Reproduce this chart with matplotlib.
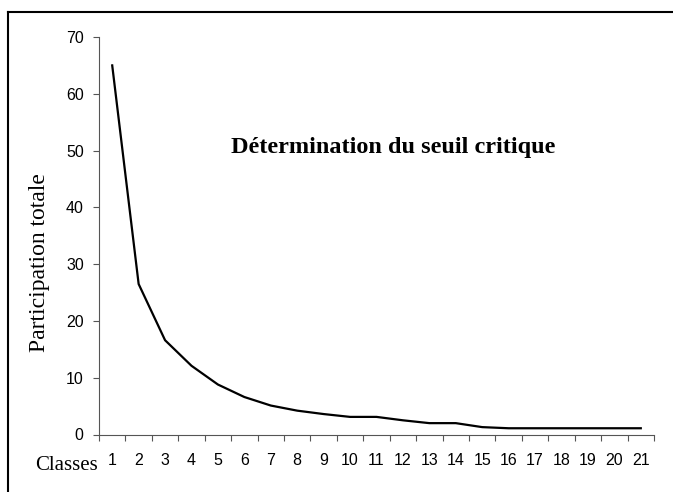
import matplotlib.pyplot as plt
from matplotlib.lines import Line2D

# données
classes = list(range(1, 22))
participation = [65, 26.5, 16.6, 12.1, 8.8, 6.6, 5.1, 4.2, 3.6, 3.1, 3.1,
                 2.5, 2.0, 2.0, 1.3, 1.1, 1.1, 1.1, 1.1, 1.1, 1.1]
y_ticks = [0, 10, 20, 30, 40, 50, 60, 70]

serif = ['Liberation Serif', 'DejaVu Serif']
sans = ['Liberation Sans', 'DejaVu Sans']

fig = plt.figure(figsize=(6.73, 4.92), dpi=100)
ax = fig.add_axes([99 / 673, 1 - 434.5 / 492, (654 - 99) / 673, (434.5 - 37) / 492])

ax.plot(classes, participation, color='black', lw=1.6)

ax.set_xlim(0.5, 21.5)
ax.set_ylim(0, 70)
ax.set_yticks(y_ticks)
ax.set_yticklabels([str(v) for v in y_ticks], fontfamily=sans, fontsize=11.5)

# ticks entre les catégories, étiquettes au centre
ax.set_xticks([c - 0.5 for c in classes] + [21.5])
ax.set_xticklabels([])
ax.set_xticks(classes, minor=True)
ax.set_xticklabels([str(c) for c in classes], minor=True, fontfamily=sans, fontsize=11.5)
ax.tick_params(axis='x', which='major', direction='out', length=4, width=0.8, color='#555555')
ax.tick_params(axis='x', which='minor', length=0, pad=13)
ax.tick_params(axis='y', direction='out', length=4, width=0.8, color='#555555', pad=7)

for side in ['top', 'right']:
    ax.spines[side].set_visible(False)
for side in ['left', 'bottom']:
    ax.spines[side].set_color('#555555')
    ax.spines[side].set_linewidth(0.8)

ax.text(393 / 673, 1 - 147 / 492, 'Détermination du seuil critique', transform=fig.transFigure,
        ha='center', va='center', fontfamily=serif, fontweight='bold', fontsize=17.5)
fig.text(40 / 673, 1 - 263 / 492, 'Participation totale', rotation=90, ha='center', va='center',
         fontfamily=serif, fontsize=17)
fig.text(35 / 673, 1 - 466 / 492, 'Classes', ha='left', va='center', fontfamily=serif, fontsize=15)

# cadre autour du graphique
fig.add_artist(Line2D([8 / 673, 8 / 673], [0, 1 - 12 / 492], transform=fig.transFigure, color='black', lw=1.5))
fig.add_artist(Line2D([8 / 673, 1], [1 - 12 / 492, 1 - 12 / 492], transform=fig.transFigure, color='black', lw=1.5))

fig.savefig('out.png', dpi=100)
